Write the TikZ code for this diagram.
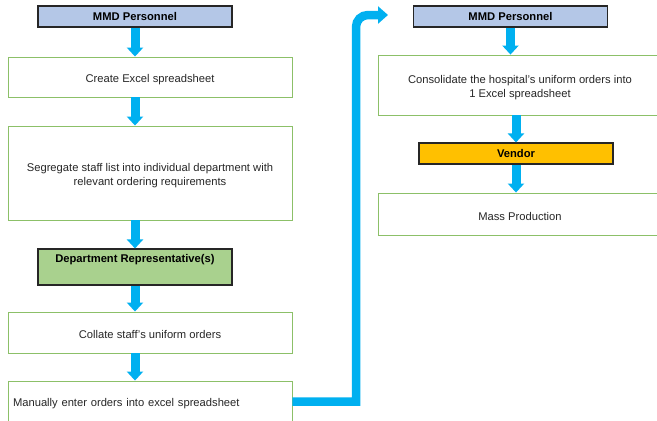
\documentclass[tikz,border=0pt]{standalone}
\usepackage{fontspec}
\setmainfont{Liberation Sans}
\usepackage{xcolor}
\usetikzlibrary{arrows.meta, positioning}
\definecolor{roleblue}{HTML}{B4C7E7}
\definecolor{rolegreen}{HTML}{A9D18E}
\definecolor{roleamber}{HTML}{FFC000}
\definecolor{boxgreen}{HTML}{8CC068}
\definecolor{flowblue}{HTML}{00B0F0}
\newcommand{\lowertext}{\rule{0pt}{13pt}}

\begin{document}
\begin{tikzpicture}[x=1pt, y=-1pt,
  stepbox/.style={draw=boxgreen, line width=0.9pt, minimum width=284, align=center,
    text=black!85, font=\fontsize{11.2}{14}\selectfont},
  rolebox/.style={draw=black!85, line width=1.1pt, minimum width=194, minimum height=21,
    inner sep=0pt, font=\bfseries\fontsize{11.2}{13}\selectfont},
  flow/.style={draw=flowblue, line width=9pt, -{Triangle[width=16pt,length=9pt]}}]
\useasboundingbox (0,0) rectangle (657,421);

% Left column
\node[rolebox, fill=roleblue] (mmdA) at (135,16.5) {MMD Personnel};
\node[stepbox, minimum height=40] (create) at (150,77) {\lowertext Create Excel spreadsheet};
\node[stepbox, minimum height=94] (segregate) at (150,173)
  {\lowertext Segregate staff list into individual department with\\relevant ordering requirements};
\node[rolebox, fill=rolegreen, minimum height=36, text height=10pt, text depth=19pt]
  (deptrep) at (135,267) {Department Representative(s)};
\node[stepbox, minimum height=41] (collate) at (150,332.5) {\lowertext Collate staff’s uniform orders};
\node[stepbox, minimum height=41, text width=274, inner xsep=5pt, align=left]
  (manual) at (150,401.5) {\lowertext Manually enter orders into excel spreadsheet};

\draw[flow] (mmdA.south) -- (create.north -| mmdA);
\draw[flow] (create.south -| mmdA) -- (segregate.north -| mmdA);
\draw[flow] (segregate.south -| mmdA) -- (deptrep.north);
\draw[flow] (deptrep.south) -- (collate.north -| mmdA);
\draw[flow] (collate.south -| mmdA) -- (manual.north -| mmdA);

% Right column
\node[rolebox, fill=roleblue] (mmdB) at (510.5,16.5) {MMD Personnel};
\node[stepbox, minimum height=60] (consol) at (520,85)
  {\lowertext Consolidate the hospital’s uniform orders into\\1 Excel spreadsheet};
\node[rolebox, fill=roleamber] (vendor) at (516,153.5) {Vendor};
\node[stepbox, minimum height=42] (mass) at (520,214) {\lowertext Mass Production};

\draw[flow] (mmdB.south) -- (consol.north -| mmdB);
\draw[flow] (consol.south -| vendor) -- (vendor.north);
\draw[flow] (vendor.south) -- (mass.north -| vendor);

% Link between columns
\coordinate (turn) at (356,15);
\coordinate (tip) at (388,15);
\draw[flow, line width=8.5pt, -{Triangle[width=17pt,length=10pt]}]
  (manual.east) -- (manual.east -| turn) -- ([yshift=-12pt]turn)
  to[out=90, in=180] ([xshift=12pt]turn) -- (tip);
\end{tikzpicture}
\end{document}
